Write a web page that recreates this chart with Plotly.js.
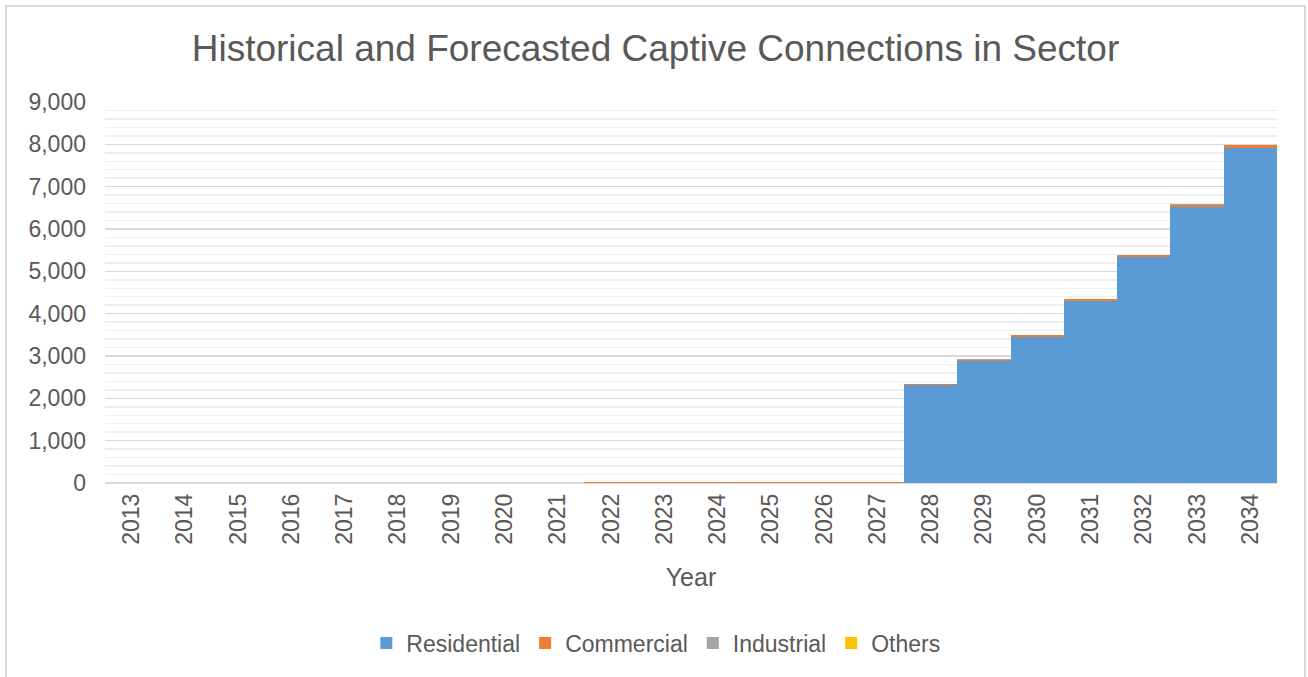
<!DOCTYPE html>
<html>
<head>
<meta charset="utf-8">
<script src="https://cdn.plot.ly/plotly-3.0.1.min.js"></script>
<style>
  html, body { margin: 0; padding: 0; background: #ffffff; overflow: hidden; }
  #frame { position: absolute; left: 5px; top: 5px; width: 1297px; height: 690px;
           border: 2px solid #d9d9d9; background: #fff; }
  #chart { position: absolute; left: 0; top: 0; width: 1297px; height: 670px; }
</style>
</head>
<body>
<div id="frame"><div id="chart"></div></div>
<script>
const years = ['2013','2014','2015','2016','2017','2018','2019','2020','2021','2022','2023',
               '2024','2025','2026','2027','2028','2029','2030','2031','2032','2033','2034'];
const residential = [0,0,0,0,0,0,0,0,0,0,0,0,0,0,0,2310,2880,3450,4310,5330,6520,7915];
const commercial  = [0,0,0,0,0,0,0,0,0,12,14,15,17,25,28,32,35,38,42,50,55,65];
const industrial  = [0,0,0,0,0,0,0,0,0,0,0,0,0,0,0,5,5,5,5,5,5,5];
const others      = [0,0,0,0,0,0,0,0,0,0,0,0,0,0,0,0,0,0,0,0,0,0];

const seriesNames = ['Residential','Commercial','Industrial','Others'];
const seriesData = [residential, commercial, industrial, others];
const seriesColors = ['#5B9BD5','#ED7D31','#A5A5A5','#FFC000'];

const traces = seriesNames.map((n, i) => ({
  type: 'bar', name: n, x: years, y: seriesData[i],
  marker: { color: seriesColors[i], line: { width: 0 } },
  hoverinfo: 'x+y+name'
}));

const font = 'Arial, "Liberation Sans", Helvetica, sans-serif';
const layout = {
  barmode: 'stack', bargap: 0,
  width: 1297, height: 670,
  margin: { l: 98, r: 27, t: 95, b: 194 },
  paper_bgcolor: '#ffffff', plot_bgcolor: '#ffffff',
  font: { family: font, color: '#595959', size: 23 },
  title: { text: 'Historical and Forecasted Captive Connections in Sector',
           font: { family: font, size: 37, color: '#595959' },
           x: 0.5, xanchor: 'center', y: 0.938, yanchor: 'middle', yref: 'container' },
  xaxis: {
    type: 'category', tickangle: -90, showgrid: false, showline: false,
    ticks: '', tickfont: { size: 23, color: '#595959' }, ticklabelstandoff: 5,
    title: { text: 'Year', font: { size: 25, color: '#595959' }, standoff: 24 }
  },
  yaxis: {
    range: [0, 9000], dtick: 1000, tickformat: ',d', showline: false, ticks: '',
    gridcolor: '#d9d9d9', gridwidth: 1.5,
    zeroline: true, zerolinecolor: '#d9d9d9', zerolinewidth: 1.5,
    tickfont: { size: 23, color: '#595959' }, ticklabelstandoff: 18,
    minor: { dtick: 200, showgrid: true, gridcolor: '#eeeeee', gridwidth: 1.5 }
  },
  legend: {
    orientation: 'h', x: 0.47, xanchor: 'center', y: -0.42, yanchor: 'middle',
    font: { size: 23, color: '#595959' }, itemwidth: 30, traceorder: 'normal'
  },
  showlegend: true
};

Plotly.newPlot('chart', traces, layout, { displayModeBar: false, staticPlot: true });
</script>
</body>
</html>
